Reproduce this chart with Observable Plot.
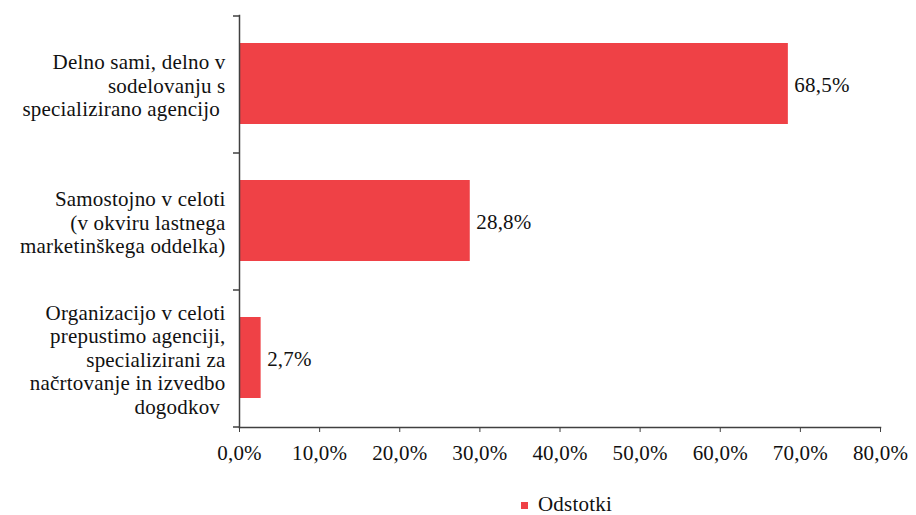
<!DOCTYPE html>
<html>
<head>
<meta charset="utf-8">
<script src="https://cdn.jsdelivr.net/npm/d3@7"></script>
<script src="https://cdn.jsdelivr.net/npm/@observablehq/plot@0.6"></script>
<style>
  body { margin: 0; background: #fff; font-family: "Liberation Serif", serif; }
  #wrap { position: relative; width: 916px; height: 515px; }
  #legend { position: absolute; left: 521px; top: 492px; font-size: 21px; letter-spacing: 0.2px; color: #111; display: flex; align-items: center; }
  #legend .sw { width: 7px; height: 7px; background: #EF4146; margin-right: 10px; margin-top: 2px; }
</style>
</head>
<body>
<div id="wrap">
  <div id="chart"></div>
  <div id="legend"><span class="sw"></span><span>Odstotki</span></div>
</div>
<script>
const categories = [
  "Delno sami, delno v\nsodelovanju s\nspecializirano agencijo\u00a0",
  "Samostojno v celoti\n(v okviru lastnega\nmarketinškega oddelka)",
  "Organizacijo v celoti\nprepustimo agenciji,\nspecializirani za\nnačrtovanje in izvedbo\ndogodkov\u00a0"
];
const values = [68.5, 28.8, 2.7];
const xTicks = [0, 10, 20, 30, 40, 50, 60, 70, 80];
const seriesName = "Odstotki";
const barColor = "#EF4146";

const data = categories.map((c, i) => ({label: c, value: values[i]}));
const fmt = d => d.toFixed(1).replace(".", ",") + "%";

const plot = Plot.plot({
  width: 916,
  height: 475,
  marginLeft: 239,
  marginRight: 36,
  marginTop: 15,
  marginBottom: 48,
  style: {fontFamily: "Liberation Serif", fontSize: "21px", letterSpacing: "0.2px", color: "#111", background: "#fff"},
  x: {domain: [0, 80], label: null},
  y: {domain: categories, padding: 0, label: null},
  marks: [
    Plot.barX(data, {x: "value", y: "label", fill: barColor, insetTop: 27, insetBottom: 29}),
    Plot.text(data, {x: "value", y: "label", text: d => fmt(d.value), textAnchor: "start", dx: 6, fill: "#111"}),
    Plot.axisX({ticks: xTicks, tickFormat: fmt, tickSize: 5, tickPadding: 13, stroke: "#404040", label: null}),
    Plot.axisY({tickSize: 0, tickPadding: 14, lineHeight: 1.12, label: null}),
    Plot.frame({anchor: "left", stroke: "#404040", strokeWidth: 1.5}),
    Plot.frame({anchor: "bottom", stroke: "#404040", strokeWidth: 1.5})
  ]
});

// boundary ticks on the category axis, from the plot's own scales
const ys = plot.scale("y");
const xs = plot.scale("x");
const x0 = xs.apply(0);
const bounds = categories.map(c => ys.apply(c));
bounds.push(ys.apply(categories[categories.length - 1]) + ys.bandwidth);
const svg = d3.select(plot);
svg.append("g").selectAll("line").data(bounds).join("line")
  .attr("x1", x0 - 6).attr("x2", x0)
  .attr("y1", d => d).attr("y2", d => d)
  .attr("stroke", "#404040").attr("stroke-width", 1.5);

document.getElementById("chart").appendChild(plot);
</script>
</body>
</html>
